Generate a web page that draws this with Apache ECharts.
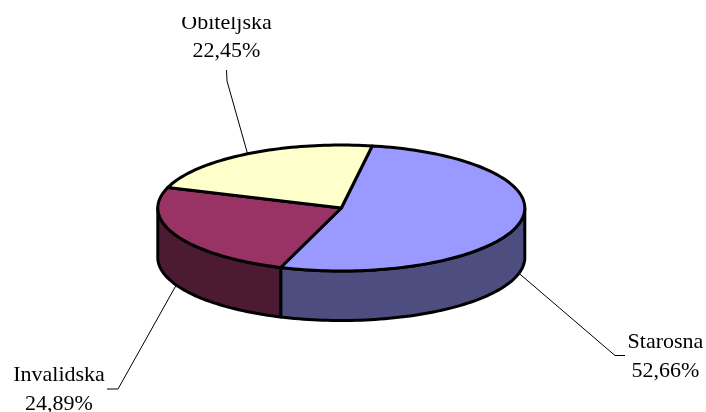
<!DOCTYPE html>
<html>
<head>
<meta charset="utf-8">
<style>html,body{margin:0;padding:0;background:#fff;overflow:hidden}#c{width:706px;height:412px}</style>
<script src="https://cdn.jsdelivr.net/npm/echarts@6/dist/echarts.min.js"></script>
</head>
<body>
<div id="c"></div>
<script>
// Data
const names = ['Starosna', 'Invalidska', 'Obiteljska'];
const shares = [52.66, 24.89, 22.45];

// Styles
const topColors = ['#9999FF', '#993366', '#FFFFCC'];
const sideColors = ['#4D4D80', '#4D1A33', '#80801A'];

// Layout: projected disc and label placement
const cx = 341.3, cy = 208, rx = 183.5, ry = 63, depth = 49.5;
const startDeg = 9.7;
const labelCenters = [[665.5, 356.5], [59, 389.5], [226.5, 37]];
const labelElbows = [[[625, 355.5], [615, 355.5]], [[107, 389], [118, 389]], [[226.5, 70], [227, 81]]];

const total = shares.reduce((a, b) => a + b, 0);
const pt = (deg, dy) => {
  const r = deg * Math.PI / 180;
  return [cx + rx * Math.sin(r), cy - ry * Math.cos(r) + (dy || 0)];
};
const arc = (a, b, dy) => {
  const out = [];
  const n = Math.max(2, Math.ceil(Math.abs(b - a) / 1.5));
  for (let i = 0; i <= n; i++) out.push(pt(a + (b - a) * i / n, dy));
  return out;
};
const stroke = { stroke: '#000', lineWidth: 3, lineJoin: 'round' };

function renderItem(params, api) {
  const i = params.dataIndex;
  const before = shares.slice(0, i).reduce((a, b) => a + b, 0);
  const a0 = startDeg + before / total * 360;
  const a1 = a0 + api.value(0) / total * 360;
  const mid = (a0 + a1) / 2;
  const children = [];
  // Outer wall: only the part on the front half of the ellipse is visible
  const s0 = Math.max(a0, 90), s1 = Math.min(a1, 270);
  if (s1 > s0) {
    const points = arc(s0, s1, 0).concat(arc(s1, s0, depth));
    children.push({
      type: 'polygon', z2: 1 + i,
      shape: { points },
      style: Object.assign({ fill: sideColors[i] }, stroke)
    });
  }
  // Top face
  children.push({
    type: 'polygon', z2: 10 + i,
    shape: { points: [[cx, cy]].concat(arc(a0, a1, 0)) },
    style: Object.assign({ fill: topColors[i] }, stroke)
  });
  // Leader line: from the middle of the slice's visible edge to the label
  const front = mid > 90 && mid < 270;
  const anchor = pt(mid, front ? depth : 0);
  children.push({
    type: 'polyline', z2: 0,
    shape: { points: labelElbows[i].concat([anchor]) },
    style: { stroke: '#000', lineWidth: 1, fill: null }
  });
  // Label
  children.push({
    type: 'text', z2: 30,
    x: labelCenters[i][0], y: labelCenters[i][1],
    style: {
      text: names[i] + '\n' + api.value(0).toFixed(2).replace('.', ',') + '%',
      fill: '#000',
      font: '22px "Liberation Serif"',
      lineHeight: 28.5,
      align: 'center',
      verticalAlign: 'middle'
    }
  });
  return { type: 'group', children };
}

const chart = echarts.init(document.getElementById('c'), null, { renderer: 'canvas' });
chart.setOption({
  animation: false,
  backgroundColor: '#fff',
  graphic: [{
    type: 'rect', z: 100,
    shape: { x: 0, y: 0, width: 706, height: 17 },
    style: { fill: '#fff' }
  }],
  series: [{
    type: 'custom',
    coordinateSystem: 'none',
    clip: false,
    encode: { value: 0, itemName: 1 },
    data: shares.map((v, i) => ({ name: names[i], value: [v] })),
    renderItem
  }]
});
</script>
</body>
</html>
